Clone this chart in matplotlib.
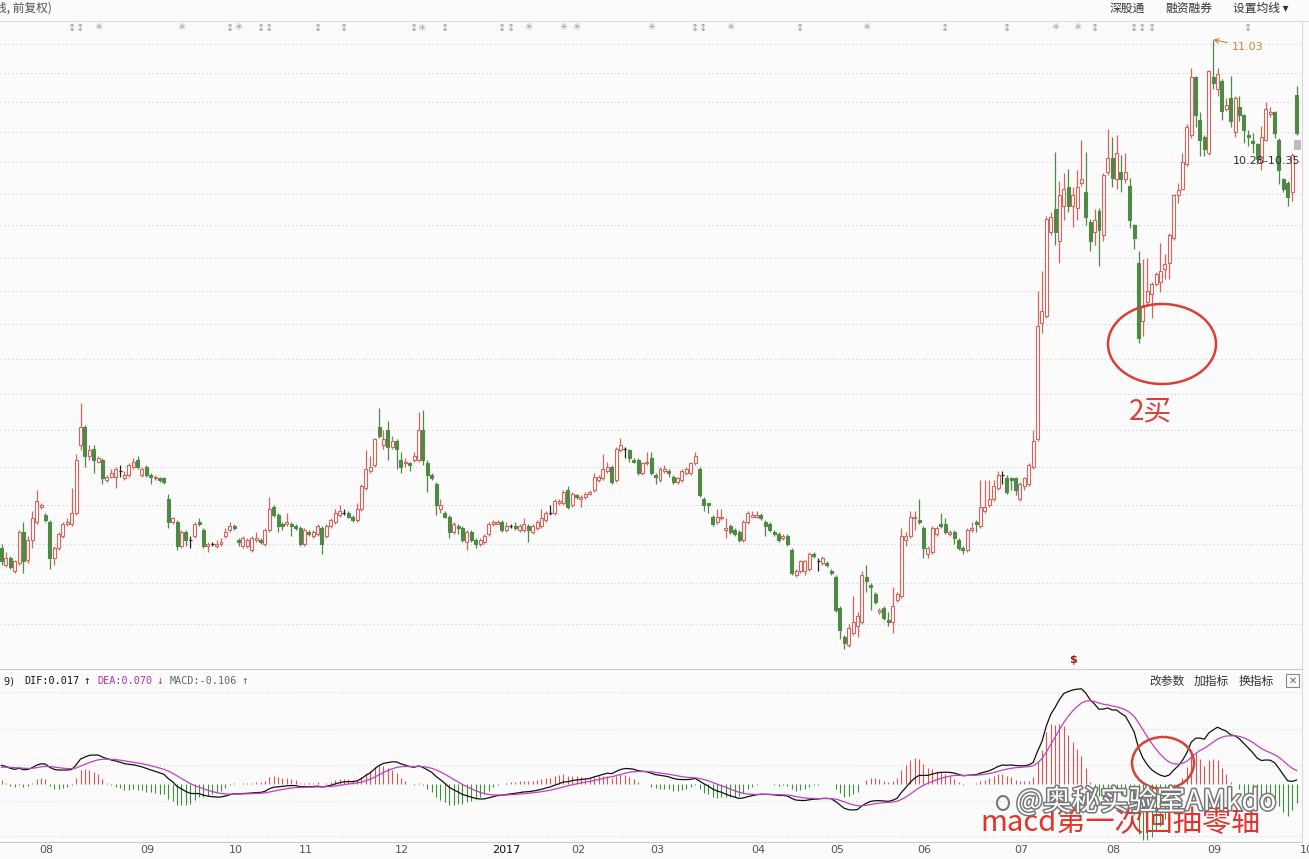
import numpy as np
import matplotlib.pyplot as plt
from matplotlib.patches import Ellipse, Rectangle
import matplotlib.patheffects as pe

W, H, DPI = 1309, 859, 100

# 日K线 (前复权)
opens = [7.98, 7.89, 7.93, 7.86, 7.90, 8.06, 7.92, 8.02, 8.11, 8.19,
         8.15, 8.11, 7.93, 7.98, 8.04, 8.10, 8.10, 8.16, 8.52, 8.62,
         8.46, 8.50, 8.43, 8.44, 8.33, 8.35, 8.35, 8.38, 8.34, 8.36,
         8.40, 8.44, 8.36, 8.40, 8.36, 8.34, 8.34, 8.34, 8.23, 8.11,
         8.11, 7.99, 8.06, 8.02, 8.04, 8.11, 8.07, 7.99, 8.00, 7.99,
         8.00, 8.04, 8.07, 8.09, 8.02, 7.99, 7.99, 7.97, 8.02, 8.02,
         8.00, 8.07, 8.19, 8.15, 8.10, 8.10, 8.10, 8.09, 8.08, 8.00,
         8.06, 8.04, 8.05, 8.08, 8.04, 8.09, 8.11, 8.15, 8.16, 8.16,
         8.14, 8.12, 8.18, 8.29, 8.38, 8.41, 8.62, 8.52, 8.60, 8.51,
         8.54, 8.44, 8.42, 8.42, 8.44, 8.44, 8.60, 8.42, 8.36, 8.31,
         8.18, 8.16, 8.14, 8.06, 8.09, 8.08, 8.01, 8.06, 8.02, 8.00,
         8.01, 8.05, 8.10, 8.10, 8.11, 8.07, 8.09, 8.09, 8.07, 8.07,
         8.09, 8.06, 8.08, 8.09, 8.12, 8.16, 8.16, 8.21, 8.21, 8.28,
         8.20, 8.25, 8.23, 8.24, 8.26, 8.28, 8.33, 8.34, 8.38, 8.40,
         8.33, 8.49, 8.50, 8.49, 8.44, 8.44, 8.37, 8.42, 8.45, 8.36,
         8.33, 8.38, 8.38, 8.35, 8.32, 8.33, 8.37, 8.37, 8.42, 8.39,
         8.23, 8.21, 8.14, 8.11, 8.13, 8.07, 8.09, 8.07, 8.06, 8.02,
         8.11, 8.14, 8.14, 8.15, 8.11, 8.10, 8.06, 8.05, 8.03, 8.04,
         7.97, 7.84, 7.86, 7.86, 7.87, 7.95, 7.91, 7.90, 7.90, 7.86,
         7.83, 7.68, 7.54, 7.50, 7.56, 7.59, 7.61, 7.83, 7.79, 7.75,
         7.66, 7.68, 7.62, 7.61, 7.72, 7.74, 8.02, 8.04, 8.13, 8.12,
         8.08, 7.95, 7.96, 8.05, 8.10, 8.10, 8.05, 8.06, 8.02, 7.98,
         7.97, 8.07, 8.11, 8.09, 8.17, 8.20, 8.23, 8.29, 8.36, 8.34,
         8.34, 8.34, 8.23, 8.30, 8.31, 8.40, 8.55, 9.21, 9.25, 9.76,
         9.90, 9.70, 9.92, 10.04, 9.92, 9.91, 10.07, 10.01, 9.82, 9.76,
         9.89, 9.74, 10.14, 10.23, 10.09, 10.14, 10.09, 10.05, 9.80, 9.57,
         9.22, 9.33, 9.38, 9.44, 9.45, 9.53, 9.57, 9.72, 9.99, 10.03,
         10.19, 10.38, 10.77, 10.48, 10.37, 10.26, 10.77, 10.69, 10.74, 10.55,
         10.63, 10.40, 10.57, 10.51, 10.38, 10.34, 10.32, 10.20, 10.35, 10.52,
         10.53, 10.35, 10.09, 10.07, 10.01, 10.65]
closes = [7.91, 7.93, 7.88, 7.91, 8.06, 7.91, 8.02, 8.13, 8.22, 8.20,
          8.12, 7.93, 7.98, 8.05, 8.10, 8.11, 8.16, 8.44, 8.62, 8.46,
          8.49, 8.44, 8.45, 8.34, 8.35, 8.37, 8.39, 8.38, 8.36, 8.41,
          8.43, 8.40, 8.39, 8.36, 8.35, 8.35, 8.33, 8.32, 8.11, 8.13,
          7.99, 8.06, 8.02, 8.02, 8.10, 8.10, 7.99, 8.00, 8.00, 8.00,
          8.01, 8.06, 8.09, 8.08, 8.01, 8.03, 8.02, 8.03, 8.03, 8.01,
          8.07, 8.18, 8.15, 8.09, 8.09, 8.11, 8.09, 8.08, 8.00, 8.07,
          8.05, 8.06, 8.09, 8.00, 8.09, 8.12, 8.16, 8.17, 8.16, 8.14,
          8.12, 8.18, 8.30, 8.39, 8.40, 8.55, 8.57, 8.55, 8.51, 8.54,
          8.50, 8.40, 8.43, 8.41, 8.46, 8.60, 8.44, 8.36, 8.34, 8.20,
          8.20, 8.14, 8.06, 8.10, 8.08, 8.02, 8.06, 8.02, 8.00, 8.02,
          8.04, 8.10, 8.11, 8.11, 8.07, 8.09, 8.09, 8.08, 8.09, 8.10,
          8.07, 8.09, 8.11, 8.13, 8.16, 8.16, 8.22, 8.22, 8.27, 8.19,
          8.26, 8.24, 8.24, 8.26, 8.27, 8.35, 8.35, 8.39, 8.40, 8.32,
          8.50, 8.52, 8.50, 8.45, 8.43, 8.37, 8.42, 8.43, 8.37, 8.35,
          8.39, 8.39, 8.37, 8.32, 8.34, 8.38, 8.39, 8.42, 8.46, 8.25,
          8.20, 8.20, 8.10, 8.14, 8.14, 8.08, 8.06, 8.05, 8.02, 8.11,
          8.16, 8.15, 8.15, 8.13, 8.09, 8.07, 8.05, 8.02, 8.04, 8.00,
          7.85, 7.86, 7.91, 7.91, 7.95, 7.94, 7.91, 7.93, 7.89, 7.85,
          7.67, 7.57, 7.51, 7.58, 7.61, 7.64, 7.84, 7.81, 7.78, 7.71,
          7.67, 7.63, 7.61, 7.69, 7.75, 8.04, 8.04, 8.14, 8.14, 8.11,
          7.98, 7.98, 8.08, 8.08, 8.09, 8.06, 8.06, 8.03, 7.98, 7.97,
          8.07, 8.08, 8.10, 8.19, 8.19, 8.23, 8.30, 8.36, 8.36, 8.27,
          8.33, 8.28, 8.31, 8.34, 8.41, 8.54, 9.19, 9.28, 9.84, 9.85,
          9.76, 9.99, 10.03, 9.92, 9.99, 10.04, 10.09, 9.85, 9.70, 9.83,
          9.77, 10.12, 10.23, 10.10, 10.26, 10.09, 10.14, 9.83, 9.72, 9.12,
          9.30, 9.40, 9.44, 9.50, 9.52, 9.56, 9.74, 9.99, 10.02, 10.20,
          10.43, 10.77, 10.51, 10.35, 10.29, 10.81, 10.73, 10.79, 10.54, 10.58,
          10.47, 10.63, 10.51, 10.41, 10.37, 10.33, 10.22, 10.37, 10.55, 10.53,
          10.39, 10.15, 10.03, 9.98, 10.25, 10.39]
highs = [8.00, 7.96, 7.94, 7.92, 8.07, 8.11, 8.04, 8.17, 8.28, 8.21,
         8.16, 8.12, 7.99, 8.06, 8.11, 8.13, 8.29, 8.47, 8.75, 8.63,
         8.52, 8.52, 8.46, 8.45, 8.36, 8.39, 8.40, 8.41, 8.38, 8.42,
         8.45, 8.46, 8.40, 8.41, 8.37, 8.36, 8.35, 8.35, 8.26, 8.14,
         8.12, 8.07, 8.07, 8.04, 8.11, 8.13, 8.08, 8.01, 8.01, 8.02,
         8.03, 8.08, 8.11, 8.10, 8.03, 8.04, 8.03, 8.04, 8.06, 8.03,
         8.08, 8.24, 8.20, 8.16, 8.11, 8.16, 8.11, 8.10, 8.09, 8.08,
         8.07, 8.07, 8.10, 8.09, 8.10, 8.13, 8.18, 8.20, 8.18, 8.17,
         8.15, 8.21, 8.31, 8.49, 8.46, 8.56, 8.72, 8.60, 8.65, 8.57,
         8.55, 8.48, 8.45, 8.43, 8.48, 8.70, 8.71, 8.44, 8.37, 8.32,
         8.23, 8.17, 8.15, 8.11, 8.10, 8.09, 8.07, 8.07, 8.03, 8.03,
         8.05, 8.11, 8.12, 8.12, 8.12, 8.11, 8.10, 8.11, 8.10, 8.13,
         8.10, 8.10, 8.12, 8.18, 8.17, 8.20, 8.23, 8.23, 8.28, 8.30,
         8.27, 8.26, 8.25, 8.27, 8.28, 8.37, 8.36, 8.47, 8.43, 8.41,
         8.51, 8.56, 8.51, 8.50, 8.45, 8.45, 8.43, 8.48, 8.48, 8.37,
         8.40, 8.41, 8.39, 8.36, 8.35, 8.39, 8.40, 8.43, 8.48, 8.40,
         8.24, 8.21, 8.15, 8.18, 8.18, 8.13, 8.10, 8.08, 8.07, 8.12,
         8.17, 8.17, 8.17, 8.16, 8.12, 8.11, 8.07, 8.06, 8.05, 8.05,
         7.98, 7.87, 7.92, 7.92, 7.96, 7.96, 7.93, 7.94, 7.91, 7.87,
         7.84, 7.69, 7.55, 7.60, 7.74, 7.66, 7.86, 7.89, 7.80, 7.76,
         7.68, 7.69, 7.66, 7.78, 7.76, 8.08, 8.06, 8.17, 8.17, 8.23,
         8.09, 7.99, 8.09, 8.09, 8.16, 8.13, 8.07, 8.07, 8.03, 7.99,
         8.08, 8.11, 8.12, 8.33, 8.33, 8.33, 8.33, 8.38, 8.38, 8.36,
         8.35, 8.35, 8.32, 8.35, 8.42, 8.60, 9.40, 9.52, 9.86, 9.88,
         10.27, 10.08, 10.13, 10.16, 10.04, 10.15, 10.35, 10.27, 9.84, 9.90,
         9.91, 10.13, 10.42, 10.37, 10.38, 10.25, 10.26, 10.10, 9.81, 9.64,
         9.59, 9.60, 9.45, 9.51, 9.69, 9.62, 9.75, 10.00, 10.07, 10.26,
         10.45, 10.83, 10.78, 10.53, 10.38, 10.82, 11.03, 10.83, 10.76, 10.63,
         10.78, 10.64, 10.64, 10.52, 10.41, 10.39, 10.33, 10.44, 10.60, 10.57,
         10.54, 10.36, 10.10, 10.08, 10.26, 10.71]
lows = [7.89, 7.88, 7.87, 7.85, 7.89, 7.85, 7.90, 7.98, 8.10, 8.18,
        8.11, 7.87, 7.89, 7.97, 8.03, 8.09, 8.09, 8.15, 8.49, 8.40,
        8.44, 8.37, 8.42, 8.31, 8.32, 8.34, 8.29, 8.35, 8.33, 8.35,
        8.39, 8.39, 8.35, 8.35, 8.31, 8.33, 8.32, 8.31, 8.08, 8.10,
        7.97, 7.98, 7.99, 7.98, 8.03, 8.09, 7.98, 7.96, 7.99, 7.98,
        7.99, 8.03, 8.06, 8.07, 7.99, 7.98, 7.98, 7.96, 8.01, 8.00,
        7.99, 8.06, 8.14, 8.06, 8.07, 8.09, 8.04, 8.07, 7.99, 7.99,
        8.04, 8.03, 8.04, 7.95, 8.03, 8.08, 8.10, 8.14, 8.15, 8.13,
        8.11, 8.11, 8.17, 8.28, 8.37, 8.40, 8.56, 8.50, 8.44, 8.50,
        8.39, 8.37, 8.40, 8.38, 8.43, 8.43, 8.41, 8.27, 8.33, 8.15,
        8.16, 8.13, 8.03, 8.05, 8.05, 8.01, 7.97, 8.01, 7.98, 7.99,
        8.00, 8.04, 8.09, 8.10, 8.06, 8.06, 8.08, 8.07, 8.06, 8.06,
        8.01, 8.05, 8.07, 8.08, 8.11, 8.15, 8.15, 8.20, 8.20, 8.18,
        8.19, 8.23, 8.19, 8.23, 8.25, 8.27, 8.32, 8.33, 8.37, 8.31,
        8.32, 8.48, 8.45, 8.43, 8.42, 8.36, 8.36, 8.41, 8.36, 8.31,
        8.32, 8.37, 8.35, 8.31, 8.31, 8.32, 8.36, 8.36, 8.41, 8.24,
        8.17, 8.16, 8.09, 8.10, 8.12, 8.03, 8.05, 8.04, 8.01, 8.01,
        8.10, 8.14, 8.13, 8.12, 8.04, 8.06, 8.04, 8.01, 8.02, 7.99,
        7.84, 7.83, 7.85, 7.84, 7.86, 7.93, 7.86, 7.89, 7.88, 7.84,
        7.66, 7.53, 7.48, 7.49, 7.55, 7.54, 7.60, 7.76, 7.67, 7.70,
        7.65, 7.62, 7.59, 7.56, 7.71, 7.73, 7.99, 8.03, 8.07, 8.10,
        7.93, 7.93, 7.95, 8.04, 8.08, 8.05, 8.04, 8.00, 7.97, 7.95,
        7.96, 8.06, 8.06, 8.08, 8.16, 8.19, 8.22, 8.28, 8.31, 8.26,
        8.28, 8.25, 8.22, 8.28, 8.30, 8.39, 8.54, 9.15, 9.24, 9.74,
        9.68, 9.57, 9.83, 9.88, 9.79, 9.83, 10.05, 9.80, 9.64, 9.68,
        9.55, 9.70, 10.12, 10.04, 10.03, 10.01, 10.07, 9.78, 9.65, 9.09,
        9.13, 9.31, 9.24, 9.43, 9.39, 9.47, 9.47, 9.71, 9.94, 10.02,
        10.18, 10.36, 10.43, 10.24, 10.24, 10.25, 10.69, 10.64, 10.48, 10.54,
        10.43, 10.37, 10.47, 10.33, 10.31, 10.26, 10.19, 10.15, 10.34, 10.50,
        10.36, 10.06, 10.01, 9.92, 9.95, 10.38]

# 月份刻度 (每月首个交易日的K线序号)
month_idx = [9, 32, 52, 68, 90, 112, 130, 148, 171, 189, 209, 231, 252, 275, 296]
month_lbl = ["08", "09", "10", "11", "12", "2017", "02", "03", "04", "05",
             "06", "07", "08", "09", "10"]

# 顶部信息地雷
event_idx = [17, 22, 41, 52, 54, 60, 72, 78, 95, 101, 114, 116, 120, 128, 131,
             148, 159, 166, 182, 197, 215, 229, 240, 245, 249, 259, 262, 284]
event_sym = ["↕↕", "✳", "✳", "↕", "✳", "↕↕", "↕", "↕", "↕✳", "↕", "↕", "↕", "✳", "✳", "✳",
             "✳", "↕↕", "✳", "↕", "✳", "↕", "↕", "✳", "✳", "↕", "↕↕", "↕", "↕"]

# MACD(12,26,9) 起始值 (图左端读数)
dif_start, dea_start = 0.10, 0.09
box_lo, box_hi = 10.28, 10.35

RED = "#d4645c"
GREEN = "#4e8a45"
BG = "#fbfbfb"
DX = 4.39  # 每根K线的像素间距

plt.rcParams['font.family'] = ['Noto Sans CJK SC', 'DejaVu Sans']

fig = plt.figure(figsize=(W / DPI, H / DPI), dpi=DPI)
fig.patch.set_facecolor(BG)


def px_axes(x0, y0, x1, y1, **kw):
    return fig.add_axes([x0 / W, 1 - y1 / H, (x1 - x0) / W, (y1 - y0) / H], **kw)


def clean(a):
    a.set_facecolor(BG)
    for s in a.spines.values():
        s.set_visible(False)
    a.tick_params(which='both', left=False, bottom=False, labelleft=False, labelbottom=False)


o = np.array(opens)
c = np.array(closes)
hi = np.array(highs)
lo = np.array(lows)
n = len(c)
x = np.arange(n)
xlim = (-1.5 / DX, (1302 - 1.5) / DX)

# ---------------- K线 ----------------
ax = px_axes(0, 21, 1302, 668)
clean(ax)
ax.set_yscale('log')
ax.set_ylim(7.391, 11.162)
ax.set_xlim(*xlim)
ax.yaxis.set_minor_locator(plt.NullLocator())
for v in np.arange(7.6, 11.01, 0.2):
    ax.axhline(v, color='#cfcfcf', lw=0.8, ls=(0, (1, 2.5)), zorder=0)

up = c > o
dn = c < o
flat = c == o
top = np.maximum(o, c)
bot = np.minimum(o, c)
cols = np.where(up, RED, np.where(dn, GREEN, '#222222'))
ax.vlines(x, top, hi, colors=cols, lw=0.9, zorder=2)
ax.vlines(x, lo, bot, colors=cols, lw=0.9, zorder=2)
bw = 0.68
ax.bar(x[up], (c - o)[up], bottom=o[up], width=bw, facecolor=BG, edgecolor=RED, lw=0.8, zorder=3)
ax.bar(x[dn], (o - c)[dn], bottom=c[dn], width=bw, facecolor=GREEN, edgecolor=GREEN, lw=0.8, zorder=3)
ax.hlines(c[flat], x[flat] - bw / 2, x[flat] + bw / 2, colors='#222222', lw=0.9, zorder=3)

ax.bar(n - 0.8, box_hi - box_lo, bottom=box_lo, width=1.5, color='#bdbdbd', zorder=2)

i_max = int(np.argmax(hi))
ax.annotate(f"{hi[i_max]:.2f}", xy=(i_max, hi[i_max]), xytext=(i_max + 4.2, 10.98),
            color='#c8823c', fontsize=8, family='DejaVu Sans', va='center', ha='left',
            arrowprops=dict(arrowstyle='->', color='#c8823c', lw=0.8, shrinkA=1, shrinkB=0))
ax.text(280.5, 10.21, f"{box_lo:.2f}-{box_hi:.2f}", color='#333333', fontsize=8,
        family='DejaVu Sans', va='center', ha='left')

xt = ax.get_xaxis_transform()
for i, s in zip(event_idx, event_sym):
    ax.text(i, 0.99, s, transform=xt, ha='center', va='center', fontsize=7,
            color='#9a9a9a', family='DejaVu Sans')
ax.text(244, 0.012, r"\$", transform=xt, ha='center', va='center', fontsize=8,
        color='#a01818', fontweight='bold', family='DejaVu Sans')

# ---------------- MACD ----------------
dif = np.empty(n)
dea = np.empty(n)
e12, e26, d = c[0], c[0] - dif_start, dea_start
for i in range(n):
    if i > 0:
        e12 += (c[i] - e12) * 2 / 13
        e26 += (c[i] - e26) * 2 / 27
    dif[i] = e12 - e26
    if i > 0:
        d += (dif[i] - d) * 2 / 10
    dea[i] = d
macd = 2 * (dif - dea)

ax2 = px_axes(0, 670, 1302, 842)
clean(ax2)
ax2.set_xlim(*xlim)
ax2.set_ylim(-0.312, 0.613)
for v in [0.495, 0.296, 0.102, -0.091, -0.280]:
    ax2.axhline(v, color='#d4d4d4', lw=0.8, ls=(0, (1, 2.5)), zorder=0)
ax2.vlines(x, 0, macd, colors=np.where(macd >= 0, '#d9534f', '#3f8f3a'), lw=0.8)
ax2.plot(x, dif, color='#111111', lw=0.9)
ax2.plot(x, dea, color='#c23fc2', lw=0.9)

xt2 = ax2.get_xaxis_transform()
for i, s in zip(month_idx, month_lbl):
    ax2.text(i - 0.3, -0.047, s, transform=xt2, ha='left', va='center', fontsize=8,
             color='#111111' if s == '2017' else '#555555', family='DejaVu Sans', clip_on=False)

# ---------------- 叠加层: 边框, 文字, 标注 ----------------
ov = fig.add_axes([0, 0, 1, 1], zorder=10)
ov.set_xlim(0, W)
ov.set_ylim(H, 0)
ov.axis('off')
ov.patch.set_alpha(0)

ov.plot([0, W], [21, 21], color='#dddddd', lw=0.8)
ov.plot([0, 1302], [669, 669], color='#cccccc', lw=0.8)
ov.plot([0, 1302], [842, 842], color='#cccccc', lw=0.8)
ov.plot([1302, 1302], [21, 842], color='#d8d8d8', lw=0.8)

ov.text(-5, 8, "线, 前复权)", fontsize=8.5, color='#555555', va='center', ha='left')
for xp, s in [(1110, "深股通"), (1165, "融资融券"), (1233, "设置均线 ▾")]:
    ov.text(xp, 8, s, fontsize=8.5, color='#333333', va='center', ha='left')

mono = 'DejaVu Sans Mono'
ov.text(3, 681, "9)", fontsize=7.3, family=mono, color='#222222', va='center')
ov.text(24, 681, "DIF:0.017", fontsize=7.3, family=mono, color='#111111', va='center')
ov.text(87, 681, "↑", fontsize=8, family=mono, color='#111111', va='center', ha='center')
ov.text(97, 681, "DEA:0.070", fontsize=7.3, family=mono, color='#b030b0', va='center')
ov.text(160, 681, "↓", fontsize=8, family=mono, color='#b030b0', va='center', ha='center')
ov.text(170, 681, "MACD:-0.106", fontsize=7.3, family=mono, color='#666666', va='center')
ov.text(245, 681, "↑", fontsize=8, family=mono, color='#666666', va='center', ha='center')
for xp, s in [(1149, "改参数"), (1194, "加指标"), (1239, "换指标")]:
    ov.text(xp, 681, s, fontsize=8.5, color='#333333', va='center', ha='left')
ov.add_patch(Rectangle((1286, 674), 13, 13, fill=False, ec='#888888', lw=0.8))
ov.text(1292.5, 680.5, "✕", fontsize=7, color='#666666', ha='center', va='center',
        family='DejaVu Sans')

# 红圈与说明
ov.add_patch(Ellipse((1162, 344), 108, 80, fill=False, ec='#d9403a', lw=1.8))
ov.text(1150, 411, "2买", fontsize=20, color='#d9403a', ha='center', va='center')
ov.add_patch(Ellipse((1163, 763), 62, 52, fill=False, ec='#d9403a', lw=1.8))
ov.text(980, 823, "macd第一次回抽零轴", fontsize=21, color='#e0332a', ha='left', va='center')
ov.text(1016, 802, "@奥秘实验室AMkdo", fontsize=20.5, color='white', ha='left', va='center',
        path_effects=[pe.withStroke(linewidth=2.2, foreground='#777777')])
ov.add_patch(Ellipse((1003, 803), 12, 14, fill=False, ec='#777777', lw=1.5))

fig.savefig("out.png", dpi=DPI, facecolor=BG)
